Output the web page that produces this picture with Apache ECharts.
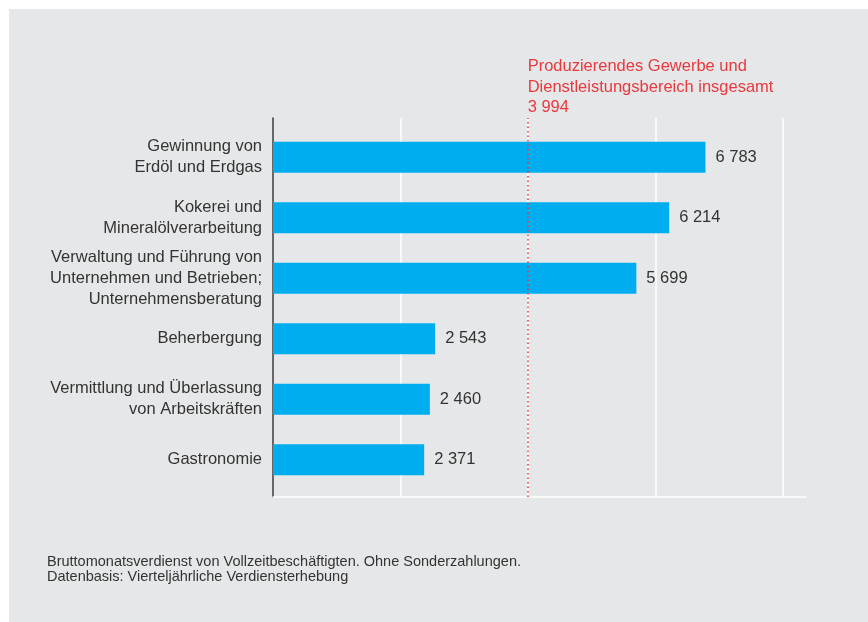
<!DOCTYPE html>
<html>
<head>
    <meta charset="UTF-8">
    <title>Bruttomonatsverdienst</title>
    <style>
        body { margin: 0; background: #fff; }
        #panel { position: absolute; left: 9px; top: 9px; width: 859px; height: 613px; background: #e6e7e8; }
        #main { position: absolute; left: 0; top: 0; width: 868px; height: 622px; }
    </style>
</head>
<body>
<div id="panel"></div>
<div id="main"></div>
<script src="https://cdn.jsdelivr.net/npm/echarts@6/dist/echarts.min.js"></script>
<script type="text/javascript">
    // Daten
    var categories = [
        'Gewinnung von\nErdöl und Erdgas',
        'Kokerei und\nMineralölverarbeitung',
        'Verwaltung und Führung von\nUnternehmen und Betrieben;\nUnternehmensberatung',
        'Beherbergung',
        'Vermittlung und Überlassung\nvon Arbeitskräften',
        'Gastronomie'
    ];
    var values = [6783, 6214, 5699, 2543, 2460, 2371];
    var avgValue = 3994;
    var avgLabel = 'Produzierendes Gewerbe und\nDienstleistungsbereich insgesamt';
    var footnote = 'Bruttomonatsverdienst von Vollzeitbeschäftigten. Ohne Sonderzahlungen.\nDatenbasis: Vierteljährliche Verdiensterhebung';

    var fontFamily = '"Liberation Sans", Arial, Helvetica, sans-serif';
    var textColor = '#333';

    function fmt(v) {
        return String(v).replace(/\B(?=(\d{3})+(?!\d))/g, ' ');
    }

    var myChart = echarts.init(document.getElementById('main'));

    var option = {
        backgroundColor: 'transparent',
        textStyle: { fontFamily: fontFamily },
        title: [{
            text: footnote,
            left: 42,
            top: 549,
            textStyle: {
                fontFamily: fontFamily,
                fontSize: 14.5,
                fontWeight: 'normal',
                color: textColor,
                lineHeight: 15
            }
        }],
        grid: [
            { left: 273, right: 62, top: 127, bottom: 132 },
            { left: 273, right: 62, top: 118, bottom: 125 }
        ],
        xAxis: [{
            gridIndex: 0,
            type: 'value',
            min: 0,
            max: 8360,
            show: false
        }, {
            gridIndex: 1,
            type: 'value',
            min: 0,
            max: 8360,
            interval: 2000,
            axisLine: { show: true, lineStyle: { color: '#fff', width: 1.5 } },
            axisTick: { show: false },
            axisLabel: { show: false },
            splitLine: {
                show: true,
                showMinLine: false,
                showMaxLine: false,
                lineStyle: { color: '#fff', width: 1.5 }
            }
        }],
        yAxis: [{
            gridIndex: 0,
            type: 'category',
            inverse: true,
            data: categories,
            axisLine: { show: false },
            axisTick: { show: false },
            axisLabel: {
                margin: 11,
                fontSize: 16.5,
                lineHeight: 21,
                color: textColor,
                fontFamily: fontFamily,
                align: 'right'
            }
        }, {
            gridIndex: 1,
            type: 'value',
            min: 0,
            max: 1,
            axisLine: { show: true, onZero: false, lineStyle: { color: '#3c3c3c', width: 1.5 } },
            axisTick: { show: false },
            axisLabel: { show: false },
            splitLine: { show: false }
        }],
        series: [{
            type: 'bar',
            xAxisIndex: 0,
            yAxisIndex: 0,
            data: values,
            barWidth: 31,
            z: 3,
            itemStyle: { color: '#00aeef' },
            label: {
                show: true,
                position: 'right',
                distance: 10,
                fontSize: 16.5,
                color: textColor,
                fontFamily: fontFamily,
                formatter: function(p) { return fmt(p.value); }
            }
        }, {
            type: 'line',
            xAxisIndex: 1,
            yAxisIndex: 1,
            data: [],
            markLine: {
                silent: true,
                symbol: ['none', 'none'],
                lineStyle: { color: '#e8323c', type: [1.5, 3], width: 1.5 },
                label: {
                    show: true,
                    position: 'end',
                    align: 'left',
                    verticalAlign: 'bottom',
                    distance: 0,
                    fontSize: 16.5,
                    lineHeight: 20.5,
                    color: '#e8393f',
                    fontFamily: fontFamily,
                    formatter: function() { return avgLabel + '\n' + fmt(avgValue); }
                },
                data: [{ xAxis: avgValue }]
            }
        }]
    };

    myChart.setOption(option);
</script>
</body>
</html>
